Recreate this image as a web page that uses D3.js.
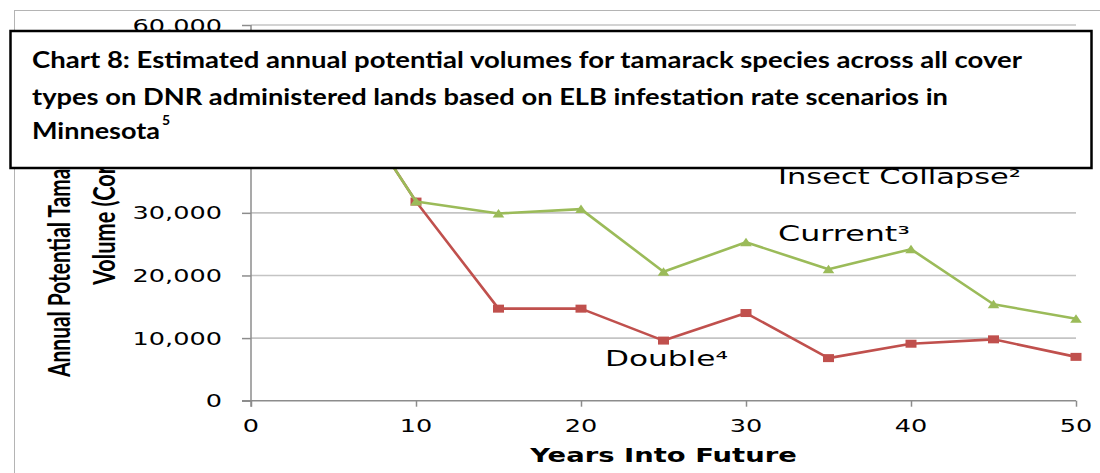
<!DOCTYPE html>
<html>
<head>
<meta charset="utf-8">
<script src="https://cdn.jsdelivr.net/npm/d3@7"></script>
<style>
  html, body { margin: 0; padding: 0; background: #fff; }
  svg { display: block; }
</style>
</head>
<body>
<svg id="chart" width="1100" height="473"></svg>
<script>
// Years into the future at which volumes were estimated
const years = [5, 10, 15, 20, 25, 30, 35, 40, 45, 50];
// Annual potential tamarack volume (cords) per scenario
const currentRate = [52000, 31800, 29900, 30600, 20600, 25300, 21000, 24200, 15400, 13100];
const doubleRate  = [52000, 31800, 14700, 14700, 9600, 14000, 6800, 9100, 9800, 7000];
// Axis ticks
const yTicks = [0, 10000, 20000, 30000, 40000, 50000, 60000];
const xTicks = [0, 10, 20, 30, 40, 50];
// Text
const seriesNames = ["Insect Collapse\u00B2", "Current\u00B3", "Double\u2074"];
const titleLines = [
  "Chart 8: Estimated annual potential volumes for tamarack species across all cover",
  "types on DNR administered lands based on ELB infestation rate scenarios in",
  "Minnesota"
];
const titleNote = "5";
const xTitle = "Years Into Future";
const yTitleLines = ["Annual Potential Tamarack", "Volume (Cords)"];

const svg = d3.select("#chart");
const wide = 1.42;                 // horizontal stretch of the chart lettering
const tickFont = "'DejaVu Sans', Verdana, sans-serif";
const boldFont = "Lato, 'Open Sans', sans-serif";

const plot = { left: 251, right: 1076, top: 25, bottom: 400.7 };
const x = d3.scaleLinear().domain([0, 50]).range([plot.left, plot.right]);
const y = d3.scaleLinear().domain([0, 60000]).range([plot.bottom, plot.top]);

// outer chart frame
svg.append("rect")
  .attr("x", 14.5).attr("y", 10.5).attr("width", 1200).attr("height", 600)
  .attr("fill", "none").attr("stroke", "#b4b4b4").attr("stroke-width", 1);

// horizontal gridlines
svg.append("g").selectAll("line").data(yTicks.filter(d => d > 0)).join("line")
  .attr("x1", plot.left).attr("x2", plot.right)
  .attr("y1", d => y(d)).attr("y2", d => y(d))
  .attr("stroke", "#c4c4c4").attr("stroke-width", 1.6);

// y axis
const yAxis = svg.append("g")
  .attr("transform", `translate(${plot.left},0)`)
  .call(d3.axisLeft(y).tickValues(yTicks).tickSize(9).tickFormat(() => ""));
yAxis.select(".domain").attr("stroke", "#8c8c8c").attr("stroke-width", 1.5)
  .attr("d", `M0,${plot.top}V${plot.bottom + 6}`);
yAxis.selectAll(".tick line").attr("stroke", "#8c8c8c").attr("stroke-width", 1.5);

// x axis
const xAxis = svg.append("g")
  .attr("transform", `translate(0,${plot.bottom})`)
  .call(d3.axisBottom(x).tickValues(xTicks).tickSize(6).tickFormat(() => ""));
xAxis.select(".domain").attr("stroke", "#8c8c8c").attr("stroke-width", 1.5)
  .attr("d", `M${plot.left - 9},0H${plot.right}`);
xAxis.selectAll(".tick line").attr("stroke", "#8c8c8c").attr("stroke-width", 1.5);

// y tick labels
const fmt = d3.format(",");
svg.append("g").selectAll("text").data(yTicks).join("text")
  .attr("transform", d => `translate(222,${y(d) + 6.5}) scale(${wide},1)`)
  .attr("text-anchor", "end")
  .attr("font-family", tickFont).attr("font-size", 18).attr("fill", "#000")
  .text(d => fmt(d));

// x tick labels
svg.append("g").selectAll("text").data(xTicks).join("text")
  .attr("transform", d => `translate(${x(d)},431.5) scale(${wide},1)`)
  .attr("text-anchor", "middle")
  .attr("font-family", tickFont).attr("font-size", 18).attr("fill", "#000")
  .text(d => d);

// x axis title
svg.append("text")
  .attr("transform", `translate(${(plot.left + plot.right) / 2},462) scale(${wide * 0.965},1)`)
  .attr("text-anchor", "middle")
  .attr("font-family", tickFont).attr("font-size", 20).attr("font-weight", "bold")
  .attr("fill", "#000")
  .text(xTitle);

// y axis title (two rotated lines)
const yTitlePos = [{ bx: 70, sy: 377, len: 248 }, { bx: 115, sy: 285, len: 146 }];
svg.append("g").selectAll("text").data(yTitleLines).join("text")
  .attr("transform", (d, i) => `translate(${yTitlePos[i].bx},${yTitlePos[i].sy}) scale(${wide},1) rotate(-90)`)
  .attr("font-family", boldFont).attr("font-size", 22).attr("font-weight", "bold")
  .attr("fill", "#000")
  .attr("textLength", (d, i) => yTitlePos[i].len)
  .attr("lengthAdjust", "spacingAndGlyphs")
  .text(d => d);

// series
const series = [
  { name: seriesNames[1], values: currentRate, color: "#9BBB59", marker: "triangle" },
  { name: seriesNames[2], values: doubleRate,  color: "#C0504D", marker: "square" }
];
const line = d3.line().x(d => x(d[0])).y(d => y(d[1]));
const markerPath = {
  triangle: "M0,-4.5L5.8,4L-5.8,4Z",
  square: "M-5.5,-4H5.5V4H-5.5Z"
};
// draw the double-rate series first so the current-rate line sits on top
[series[1], series[0]].forEach(s => {
  const pts = years.map((yr, i) => [yr, s.values[i]]);
  svg.append("path").datum(pts)
    .attr("d", line)
    .attr("fill", "none").attr("stroke", s.color).attr("stroke-width", 2.6)
    .attr("stroke-linejoin", "round");
  svg.append("g").selectAll("path").data(pts).join("path")
    .attr("transform", d => `translate(${x(d[0])},${y(d[1])})`)
    .attr("d", markerPath[s.marker])
    .attr("fill", s.color);
});

// scenario labels, positioned in data units
const labelSpots = [
  { text: seriesNames[0], yr: 31.94, v: 34600, len: 243 },
  { text: seriesNames[1], yr: 31.94, v: 25480, len: 132 },
  { text: seriesNames[2], yr: 21.45, v: 5540,  len: 123 }
];
svg.append("g").selectAll("text").data(labelSpots).join("text")
  .attr("x", d => x(d.yr)).attr("y", d => y(d.v))
  .attr("font-family", tickFont).attr("font-size", 20.5).attr("fill", "#000")
  .attr("textLength", d => d.len).attr("lengthAdjust", "spacingAndGlyphs")
  .text(d => d.text);

// title box laid over the top of the chart
svg.append("rect")
  .attr("x", 10.5).attr("y", 31).attr("width", 1081).attr("height", 137)
  .attr("fill", "#fff").attr("stroke", "#000").attr("stroke-width", 2.5);

const titleBase = [68, 105, 139];
const titleLen = [990, 916, 128];
const tt = svg.append("g");
titleLines.forEach((t, i) => {
  tt.append("text")
    .attr("x", 32).attr("y", titleBase[i])
    .attr("font-family", boldFont).attr("font-size", 23.5).attr("font-weight", "bold")
    .attr("fill", "#000")
    .attr("textLength", titleLen[i]).attr("lengthAdjust", "spacingAndGlyphs")
    .text(t);
});
tt.append("text")
  .attr("x", 162).attr("y", 125)
  .attr("font-family", boldFont).attr("font-size", 14).attr("font-weight", "bold")
  .attr("fill", "#000")
  .text(titleNote);
</script>
</body>
</html>
